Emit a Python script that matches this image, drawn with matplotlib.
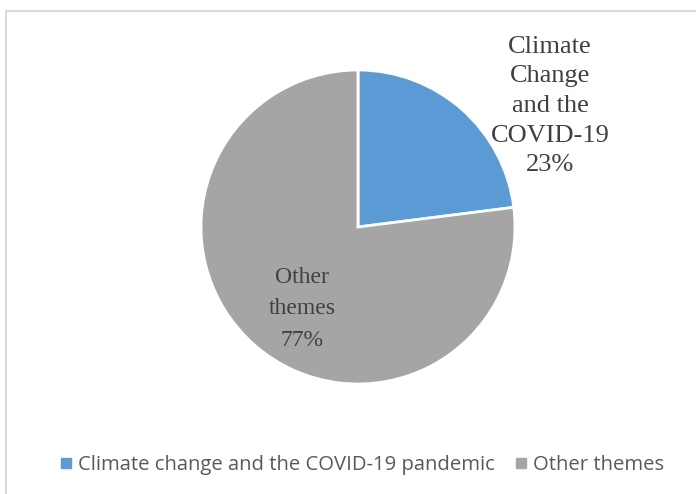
import matplotlib
matplotlib.use("Agg")
import matplotlib.pyplot as plt
from matplotlib.patches import Rectangle
from matplotlib.lines import Line2D

categories = ["Climate change and the COVID-19 pandemic", "Other themes"]
slice_labels = ["Climate\nChange\nand the\nCOVID-19", "Other\nthemes"]
values = [23, 77]
colors = ["#5B9BD5", "#A5A5A5"]

W, H = 696, 494
fig = plt.figure(figsize=(W / 100, H / 100), dpi=100)

# frame
fig.patches.append(Rectangle((6 / W, -0.1), 1.2, 1 - 11 / H + 0.1, transform=fig.transFigure,
                             fill=False, edgecolor="#D9D9D9", linewidth=1.5))

cx, cy, r = 358, 227, 157
ax = fig.add_axes([(cx - r) / W, (H - cy - r) / H, 2 * r / W, 2 * r / H])
wedges, _ = ax.pie(values, colors=colors, startangle=90, counterclock=False,
                   wedgeprops=dict(edgecolor="white", linewidth=2))
ax.set_xlim(-1, 1)
ax.set_ylim(-1, 1)
ax.set_aspect("equal")
ax.axis("off")

txtc = "#404040"
fig.text(550 / W, 1 - 106 / H, f"{slice_labels[0]}\n{values[0]}%", ha="center", va="center",
         fontsize=19, family="Liberation Serif", color=txtc, linespacing=1.45)
fig.text(302 / W, 1 - 309 / H, f"{slice_labels[1]}\n{values[1]}%", ha="center", va="center",
         fontsize=17, family="Liberation Serif", color=txtc, linespacing=1.68)

handles = [Line2D([], [], marker="s", linestyle="none", markersize=7, color=c) for c in colors]
fig.legend(handles, categories, loc="center", bbox_to_anchor=(360 / W, 1 - 465 / H), ncol=2,
           frameon=False, prop=dict(family="Open Sans", size=14.6), labelcolor="#595959",
           handletextpad=0.1, columnspacing=0.8, handlelength=1.0)

fig.savefig("out.png", dpi=100)
